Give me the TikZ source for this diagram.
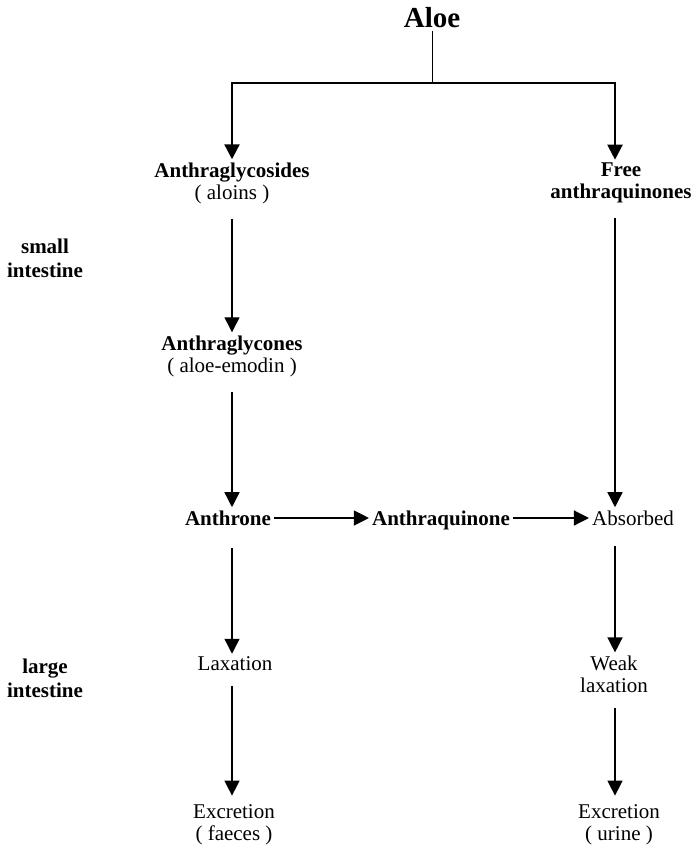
\documentclass[tikz,border=0pt]{standalone}
\usepackage{fontspec}
\setmainfont{Liberation Serif}
\usetikzlibrary{arrows.meta,calc}

\begin{document}
\begin{tikzpicture}[
  x=1pt, y=-1pt,
  every node/.style={font=\fontsize{21}{22}\selectfont, align=center, inner sep=3pt},
  title/.style={font=\fontsize{29}{30}\selectfont\bfseries},
  cmpd/.style={font=\fontsize{21}{22}\selectfont\bfseries},
  site/.style={font=\fontsize{21}{24}\selectfont\bfseries},
  arr/.style={-{Triangle[length=15pt,width=15pt]}, line width=1.4pt, shorten <=12pt},
  harr/.style={-{Triangle[length=15pt,width=15pt]}, line width=1.2pt},
  bar/.style={-{Triangle[length=15pt,width=15pt]}, line width=2.2pt}
]
\useasboundingbox (0,0) rectangle (692,850);

% column lines
\coordinate (lcol) at (232,0);
\coordinate (rcol) at (615,0);
\coordinate (split) at (432,83);

% Aloe and first products
\node[title] (aloe) at (432,18) {Aloe};
\node (glyc) at (232,183) {\textbf{Anthraglycosides}\\( aloins )};
\node[cmpd] (free) at (621,183) {Free\\anthraquinones};

% small intestine
\node[site] (small) at (45,258) {small\\intestine};
\node (glycones) at (232,356) {\textbf{Anthraglycones}\\( aloe-emodin )};

% middle row
\node[cmpd, anchor=base] (anthrone) at (228,525) {Anthrone};
\node[cmpd, anchor=base] (quinone) at (441,525) {Anthraquinone};
\node[anchor=base] (absorbed) at (633,525) {Absorbed};

% large intestine
\node[site] (large) at (45,678) {large\\intestine};
\node (laxation) at (235,664) {Laxation};
\node (weak) at (614,674) {Weak\\laxation};
\node (excf) at (234,825) {Excretion\\( faeces )};
\node (excu) at (619,825) {Excretion\\( urine )};

% Arrows
\draw[line width=1pt] (aloe.south) -- (split);
\draw[bar] (split) -| (glyc.north -| lcol);
\draw[bar] (split) -| (free.north -| rcol);
\draw[arr] (glyc.south -| lcol) -- (glycones.north -| lcol);
\draw[arr] (glycones.south -| lcol) -- (anthrone.north -| lcol);
\draw[arr] (free.south -| rcol) -- (absorbed.north -| rcol);
\draw[harr] ([yshift=7pt]anthrone.base east) -- ([yshift=7pt]quinone.base west);
\draw[harr] ([yshift=7pt]quinone.base east) -- ([yshift=7pt]absorbed.base west);
\draw[arr, shorten <=20pt] (anthrone.south -| lcol) -- (laxation.north -| lcol);
\draw[arr, shorten <=18pt] (absorbed.south -| rcol) -- (weak.north -| rcol);
\draw[arr, shorten >=6pt] (laxation.south -| lcol) -- (excf.north -| lcol);
\draw[arr, shorten >=6pt] (weak.south -| rcol) -- (excu.north -| rcol);

\end{tikzpicture}
\end{document}
